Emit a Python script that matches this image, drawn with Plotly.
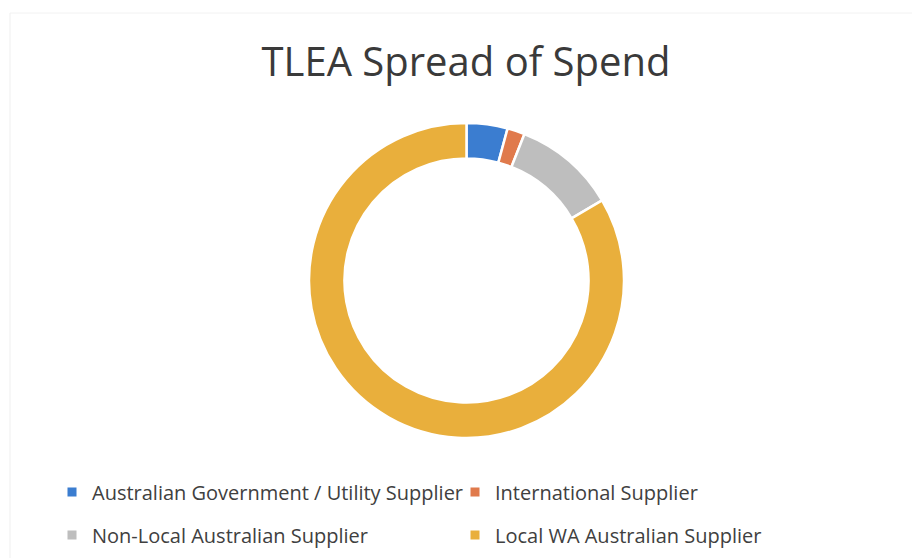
import plotly.graph_objects as go

categories = [
    "Australian Government / Utility Supplier",
    "International Supplier",
    "Non-Local Australian Supplier",
    "Local WA Australian Supplier",
]
values = [4.2, 1.8, 10.5, 83.5]
colors = ["#3B7DD0", "#E07A4C", "#BEBEBE", "#E9AF3C"]
legend_rows = ["legend", "legend", "legend2", "legend2"]

W, H = 912, 558
cx, cy, r = 466.5, 280.5, 157.5

fig = go.Figure()
fig.add_trace(go.Pie(
    labels=categories,
    values=values,
    sort=False,
    direction="clockwise",
    rotation=0,
    hole=0.775,
    textinfo="none",
    hoverinfo="label+percent",
    showlegend=False,
    marker=dict(colors=colors, line=dict(color="white", width=2.5)),
    domain=dict(x=[(cx - r) / W, (cx + r) / W], y=[1 - (cy + r) / H, 1 - (cy - r) / H]),
))

# legend entries (two rows, as in the reference)
for name, col, lg in zip(categories, colors, legend_rows):
    fig.add_trace(go.Scatter(
        x=[None], y=[None], mode="markers", name=name,
        marker=dict(symbol="square", size=9, color=col),
        legend=lg, hoverinfo="skip",
    ))

legend_common = dict(
    orientation="h",
    xanchor="left",
    yanchor="middle",
    entrywidth=358, entrywidthmode="pixels",
    font=dict(size=20, color="#404040"),
    itemsizing="trace",
    itemwidth=30,
    bgcolor="rgba(0,0,0,0)",
)

fig.update_layout(
    width=W, height=H,
    margin=dict(l=0, r=0, t=0, b=0),
    paper_bgcolor="white",
    plot_bgcolor="white",
    font=dict(family="Open Sans, sans-serif", color="#404040"),
    xaxis=dict(visible=False),
    yaxis=dict(visible=False),
    title=dict(
        text="TLEA Spread of Spend",
        x=466 / W, xanchor="center",
        y=1 - 62 / H, yanchor="middle",
        font=dict(size=40, color="#3A3A3A", family="Open Sans, sans-serif"),
    ),
    showlegend=True,
    legend=dict(x=52 / W, y=1 - 492 / H, **legend_common),
    legend2=dict(x=52 / W, y=1 - 535 / H, **legend_common),
    shapes=[
        dict(type="line", xref="paper", yref="paper", x0=10 / W, x1=10 / W, y0=0, y1=1 - 13 / H,
             line=dict(color="#EFEFEF", width=1)),
        dict(type="line", xref="paper", yref="paper", x0=10 / W, x1=1, y0=1 - 13 / H, y1=1 - 13 / H,
             line=dict(color="#F2F2F2", width=1)),
    ],
)

fig.write_html("out.html")
